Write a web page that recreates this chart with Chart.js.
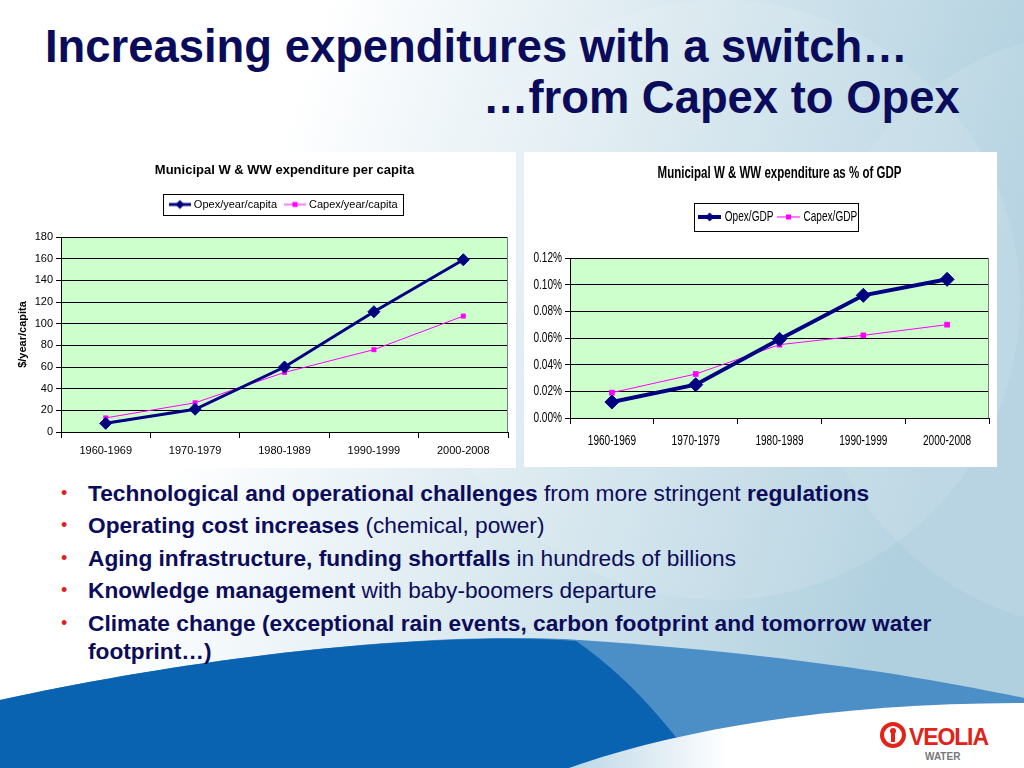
<!DOCTYPE html>
<html>
<head>
<meta charset="utf-8">
<script src="https://cdn.jsdelivr.net/npm/chart.js@4.4.0/dist/chart.umd.min.js"></script>
<style>
  html, body { margin: 0; padding: 0; }
  body { width: 1024px; height: 768px; position: relative; overflow: hidden; font-family: "Liberation Sans", Arial, sans-serif; }
  #bg { position: absolute; left: 0; top: 0; }
  .panel { position: absolute; background: #fff; }
  #leftPanel { left: 2px; top: 152px; width: 514px; height: 316px; }
  #rightPanel { left: 524px; top: 152px; width: 473px; height: 315px; }
</style>
</head>
<body>
<svg id="bg" width="1024" height="768" xmlns="http://www.w3.org/2000/svg">
  <defs>
    <linearGradient id="sky" x1="0" y1="0" x2="1" y2="0.25">
      <stop offset="0.3" stop-color="#ffffff"/>
      <stop offset="1" stop-color="#b0d0df"/>
    </linearGradient>
    <linearGradient id="wedge" x1="0" y1="0" x2="1" y2="0">
      <stop offset="0" stop-color="#bcd6e6"/>
      <stop offset="0.35" stop-color="#ffffff"/>
      <stop offset="1" stop-color="#ffffff"/>
    </linearGradient>
  </defs>
  <rect width="1024" height="768" fill="url(#sky)"/>
  <circle cx="720" cy="300" r="300" fill="#ffffff" opacity="0.1"/>
  <circle cx="1110" cy="330" r="300" fill="#ffffff" opacity="0.1"/>
  <path d="M0,700 C180,660 420,630 580,640 C760,652 900,672 1024,698 L1024,768 L0,768 Z" fill="#4b8fc6"/>
  <path d="M0,700 C180,660 420,630 576,641 C625,675 660,715 700,768 L0,768 Z" fill="#0a63b1"/>
  <path d="M569,768 C690,725 850,703 1024,703 L1024,768 Z" fill="url(#wedge)"/>

  <g font-family="Liberation Sans, Arial, sans-serif" font-weight="bold" font-size="45.4" fill="#0b0b5c">
    <text x="45" y="62">Increasing expenditures with a switch…</text>
    <text x="483" y="113">…from Capex to Opex</text>
  </g>

  <g font-family="Liberation Sans, Arial, sans-serif" font-size="22.7" fill="#0c0c5a">
    <g fill="#e0201b" font-size="18">
      <text x="61" y="499">•</text>
      <text x="61" y="531">•</text>
      <text x="61" y="564">•</text>
      <text x="61" y="596">•</text>
      <text x="61" y="629">•</text>
    </g>
    <text x="88" y="501"><tspan font-weight="bold">Technological and operational challenges</tspan> from more stringent <tspan font-weight="bold">regulations</tspan></text>
    <text x="88" y="533"><tspan font-weight="bold">Operating cost increases</tspan> (chemical, power)</text>
    <text x="88" y="566"><tspan font-weight="bold">Aging infrastructure, funding shortfalls</tspan> in hundreds of billions</text>
    <text x="88" y="598"><tspan font-weight="bold">Knowledge management</tspan> with baby-boomers departure</text>
    <text x="88" y="631" font-weight="bold">Climate change (exceptional rain events, carbon footprint and tomorrow water</text>
    <text x="88" y="659" font-weight="bold">footprint…)</text>
  </g>

  <g>
    <circle cx="893" cy="735" r="11" fill="none" stroke="#e2231a" stroke-width="4"/>
    <circle cx="893" cy="731" r="3" fill="#e2231a"/>
    <rect x="891" y="733" width="4" height="9" fill="#e2231a"/>
    <text x="909" y="745" font-family="Liberation Sans, Arial, sans-serif" font-weight="bold" font-size="23" fill="#e2231a" textLength="80">VEOLIA</text>
    <text x="925" y="760" font-family="Liberation Sans, Arial, sans-serif" font-weight="bold" font-size="10" fill="#777777">WATER</text>
  </g>
</svg>

<div class="panel" id="leftPanel"><canvas id="perCapita"></canvas></div>
<div class="panel" id="rightPanel"><canvas id="pctGdp"></canvas></div>

<script>
var periods = ['1960-1969', '1970-1979', '1980-1989', '1990-1999', '2000-2008'];
var opexPerCapita = [8, 21, 60, 111, 159];
var capexPerCapita = [13, 27, 55, 76, 107];
var opexGdp = [0.012, 0.025, 0.059, 0.092, 0.104];   // in % of GDP
var capexGdp = [0.019, 0.033, 0.055, 0.062, 0.070];

var NAVY = '#000080';
var MAGENTA = '#ff00ff';
var ARIAL = '"Liberation Sans", Arial, sans-serif';

Chart.defaults.color = '#000';
Chart.defaults.animation = false;

// small line + marker sample used as the legend symbol
var legendIcon = function(color, lineWidth, marker, size, width) {
    var c = document.createElement('canvas');
    c.width = width;
    c.height = 16;
    var g = c.getContext('2d');
    g.strokeStyle = color;
    g.fillStyle = color;
    g.lineWidth = lineWidth;
    g.beginPath();
    g.moveTo(0, 8);
    g.lineTo(width, 8);
    g.stroke();
    var m = width / 2;
    g.beginPath();
    if (marker === 'diamond') {
        g.moveTo(m, 8 - size);
        g.lineTo(m + size, 8);
        g.lineTo(m, 8 + size);
        g.lineTo(m - size, 8);
    } else {
        g.rect(m - size, 8 - size, size * 2, size * 2);
    }
    g.closePath();
    g.fill();
    return c;
};

var plotBg = {
    id: 'plotBg',
    beforeDraw: function(chart) {
        var a = chart.chartArea, ctx = chart.ctx;
        ctx.save();
        ctx.fillStyle = '#ccffcc';
        ctx.fillRect(a.left, a.top, a.right - a.left, a.bottom - a.top);
        ctx.restore();
    },
    beforeDatasetsDraw: function(chart) {
        var a = chart.chartArea, ctx = chart.ctx;
        ctx.save();
        ctx.strokeStyle = '#808080';
        ctx.lineWidth = 1;
        ctx.beginPath();
        ctx.moveTo(a.right - 0.5, a.top);
        ctx.lineTo(a.right - 0.5, a.bottom);
        ctx.stroke();
        ctx.restore();
    }
};

var legendFrame = {
    id: 'legendFrame',
    afterDraw: function(chart, args, opts) {
        var boxes = chart.legend.legendHitBoxes;
        if (!boxes || !boxes.length) return;
        var ctx = chart.ctx;
        var last = boxes[boxes.length - 1];
        var l = boxes[0].left - opts.padL;
        var r = last.left + last.width + opts.padR;
        var t = boxes[0].top - opts.padY;
        var b = boxes[0].top + boxes[0].height + opts.padY;
        ctx.save();
        ctx.strokeStyle = '#000';
        ctx.lineWidth = 1;
        ctx.strokeRect(Math.round(l) + 0.5, Math.round(t) + 0.5, Math.round(r - l), Math.round(b - t));
        ctx.restore();
    }
};

// Arial Narrow look: draw and measure Liberation Sans squeezed horizontally
var narrowText = {
    id: 'narrowText',
    beforeInit: function(chart, args, opts) {
        var ctx = chart.ctx, k = opts.factor || 0.82;
        var fill = ctx.fillText.bind(ctx);
        var measure = ctx.measureText.bind(ctx);
        ctx.fillText = function(text, x, y, maxWidth) {
            ctx.save();
            ctx.translate(x, y);
            ctx.scale(k, 1);
            if (maxWidth === undefined) fill(text, 0, 0);
            else fill(text, 0, 0, maxWidth / k);
            ctx.restore();
        };
        ctx.measureText = function(text) {
            var m = measure(text);
            return {
                width: m.width * k,
                actualBoundingBoxAscent: m.actualBoundingBoxAscent,
                actualBoundingBoxDescent: m.actualBoundingBoxDescent,
                actualBoundingBoxLeft: m.actualBoundingBoxLeft * k,
                actualBoundingBoxRight: m.actualBoundingBoxRight * k
            };
        };
    }
};

var initLineChart = function(id, cfg) {
    var ctx = document.getElementById(id).getContext('2d');
    return new Chart(ctx, {
        type: 'line',
        data: {
            labels: periods,
            datasets: [{
                label: cfg.names[0],
                data: cfg.opex,
                borderColor: NAVY,
                backgroundColor: NAVY,
                borderWidth: cfg.opexWidth,
                pointStyle: 'rectRot',
                pointRadius: cfg.opexRadius,
                pointBorderWidth: 1,
                tension: 0
            }, {
                label: cfg.names[1],
                data: cfg.capex,
                borderColor: MAGENTA,
                backgroundColor: MAGENTA,
                borderWidth: 1,
                pointStyle: 'rect',
                pointRadius: cfg.capexRadius,
                pointBorderWidth: 0,
                tension: 0
            }]
        },
        options: {
            responsive: true,
            maintainAspectRatio: false,
            layout: { padding: cfg.padding },
            plugins: {
                title: {
                    display: true,
                    fullSize: false,
                    text: cfg.title,
                    color: '#000',
                    font: { family: ARIAL, size: cfg.titleSize, weight: 'bold' },
                    padding: cfg.titlePadding
                },
                legend: {
                    display: true,
                    fullSize: false,
                    position: 'top',
                    weight: 1800,
                    labels: {
                        color: '#000',
                        font: { family: ARIAL, size: cfg.legendSize },
                        usePointStyle: true,
                        pointStyleWidth: cfg.boxWidth,
                        padding: cfg.legendPad,
                        generateLabels: function(chart) {
                            var items = Chart.defaults.plugins.legend.labels.generateLabels(chart);
                            items[0].pointStyle = legendIcon(NAVY, cfg.opexWidth, 'diamond', 4.5, cfg.iconWidth);
                            items[1].pointStyle = legendIcon(MAGENTA, 1, 'square', 2.5, cfg.iconWidth);
                            return items;
                        }
                    }
                },
                subtitle: {
                    display: true,
                    fullSize: false,
                    text: '',
                    font: { size: cfg.gap, lineHeight: 1 },
                    padding: 0
                },
                legendFrame: cfg.frame,
                narrowText: { factor: cfg.squeeze },
                tooltip: { enabled: false }
            },
            scales: {
                x: {
                    offset: true,
                    grid: { offset: true, drawOnChartArea: false, color: '#000', tickLength: 6 },
                    border: { color: '#000' },
                    ticks: { color: '#000', font: { family: ARIAL, size: cfg.tickSize }, padding: cfg.xTickPad, maxRotation: 0 },
                    afterFit: function(scale) { scale.height = cfg.xHeight; }
                },
                y: {
                    min: 0,
                    max: cfg.max,
                    grid: { color: '#000', tickLength: 5 },
                    border: { color: '#000' },
                    ticks: {
                        stepSize: cfg.step,
                        color: '#000',
                        padding: 3,
                        font: { family: ARIAL, size: cfg.tickSize },
                        callback: cfg.format
                    },
                    title: cfg.yTitle,
                    afterFit: function(scale) { scale.width = cfg.yWidth; }
                }
            }
        },
        plugins: cfg.squeeze ? [narrowText, plotBg, legendFrame] : [plotBg, legendFrame]
    });
};

initLineChart('perCapita', {
    names: ['Opex/year/capita', 'Capex/year/capita'],
    opex: opexPerCapita,
    capex: capexPerCapita,
    title: 'Municipal W & WW expenditure per capita',
    titleSize: 13,
    titlePadding: { top: 11, bottom: 10.9 },
    legendSize: 11,
    legendPad: 9.5,
    boxWidth: 17,
    iconWidth: 22,
    frame: { padL: 8.5, padR: 5, padY: 5 },
    gap: 17,
    tickSize: 11,
    xTickPad: 6,
    xHeight: 36,
    yWidth: 51,
    padding: { left: 8, right: 8, top: 0, bottom: 0 },
    max: 180,
    step: 20,
    opexWidth: 3,
    opexRadius: 6,
    capexRadius: 3.5,
    squeeze: 0,
    format: function(v) { return v; },
    yTitle: { display: true, text: '$/year/capita', color: '#000', font: { family: ARIAL, size: 11, weight: 'bold' }, padding: { top: 6, bottom: 0 } }
});

initLineChart('pctGdp', {
    names: ['Opex/GDP', 'Capex/GDP'],
    opex: opexGdp,
    capex: capexGdp,
    title: 'Municipal W & WW expenditure as % of GDP',
    titleSize: 16,
    titlePadding: { top: 12.4, bottom: 19.4 },
    legendSize: 14,
    legendPad: 7,
    boxWidth: 16,
    iconWidth: 23,
    frame: { padL: 7.5, padR: 1, padY: 7 },
    gap: 24,
    tickSize: 14,
    xTickPad: 9,
    xHeight: 49,
    yWidth: 46,
    padding: { left: 0, right: 7, top: 0, bottom: 0 },
    max: 0.12,
    step: 0.02,
    opexWidth: 4,
    opexRadius: 7,
    capexRadius: 4,
    squeeze: 0.72,
    format: function(v) { return v.toFixed(2) + '%'; },
    yTitle: { display: false }
});
</script>
</body>
</html>
